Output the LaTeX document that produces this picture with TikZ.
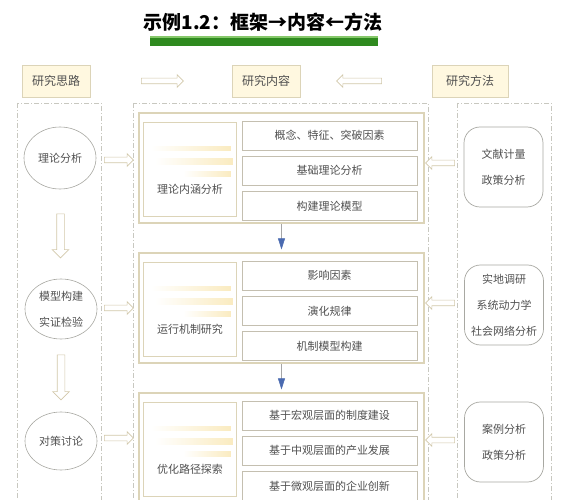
\documentclass[tikz,border=0pt]{standalone}
\usepackage{fontspec}
\setmainfont{Noto Sans CJK SC}
\usepackage{xcolor}
\usetikzlibrary{positioning, shapes.geometric, shapes.arrows, arrows.meta, calc}
\definecolor{tanline}{HTML}{DCD4B8}
\definecolor{creamfill}{HTML}{FFF8E0}
\definecolor{dashgray}{HTML}{C8C8C0}
\definecolor{rowgray}{HTML}{C4BFB0}
\definecolor{ellgray}{HTML}{A8A8A2}
\definecolor{arrowtan}{HTML}{D2C8AA}
\definecolor{txtgray}{HTML}{505050}
\definecolor{arrowblue}{HTML}{4A6AB0}
\definecolor{streakyellow}{HTML}{FAEBC0}
\definecolor{barlight}{HTML}{86C86A}
\definecolor{bardark}{HTML}{2F8A1F}

\begin{document}
\begin{tikzpicture}[x=1pt, y=-1pt,
		every node/.style={text=txtgray, font=\fontsize{11}{13}\selectfont}, % plain text everywhere
		hdrbox/.style={draw=tanline, fill=creamfill, line width=0.8pt, minimum height=32pt, inner sep=0pt, font=\fontsize{12}{14}\selectfont},
		column/.style={draw=dashgray, line width=0.6pt, dash pattern=on 5pt off 2pt on 1pt off 2pt},
		outerbox/.style={draw=tanline, line width=1.2pt, fill=white, minimum width=285pt, minimum height=110pt, inner sep=0pt},
		leftbox/.style={draw=tanline, line width=0.8pt, minimum width=93pt, minimum height=94pt, inner sep=0pt},
		rowbox/.style={draw=rowgray, line width=0.8pt, minimum width=175pt, minimum height=29pt, inner sep=0pt},
		ideabox/.style={ellipse, draw=ellgray, line width=0.6pt, minimum width=72pt, minimum height=60pt, inner sep=0pt, align=center, font=\fontsize{11}{26}\selectfont},
		methodbox/.style={rectangle, rounded corners=16pt, draw=ellgray, line width=0.7pt, minimum width=79pt, minimum height=80pt, inner sep=0pt, align=center, font=\fontsize{11}{26}\selectfont},
		hollow/.style={single arrow, draw=arrowtan, fill=white, line width=0.6pt, inner sep=2.5pt, single arrow head extend=3.5pt},
		flow/.style={draw=gray!70, line width=0.5pt, -{Triangle[color=arrowblue, width=7pt, length=11pt]}, shorten >=3pt},
		streak/.style={left color=white, right color=streakyellow, draw=none}
		]
		\useasboundingbox (0,0) rectangle (566,500);
		\clip (0,0) rectangle (566,500);
		
		% Title with green bar
		\node[text=black, font=\fontsize{19}{22}\selectfont\bfseries] (title) at (263,22) {示例1.2：框架→内容←方法};
		\fill[barlight] (150,36) rectangle (378,38.5);
		\fill[bardark] (150,38.5) rectangle (378,46);
		
		% Headers
		\node[hdrbox, minimum width=68pt] (hleft) at (56,81) {研究思路};
		\node[hdrbox, minimum width=68pt] (hmid) at (266,81) {研究内容};
		\node[hdrbox, minimum width=76pt] (hright) at (470,81) {研究方法};
		\node[hollow, minimum height=42pt] at ($(hleft.east)!.5!(hmid.west)$) {};
		\node[hollow, minimum height=45pt, shape border rotate=180] at (360.5,81) {};
		
		% Dashed columns
		\draw[column] (17,103) rectangle (101,510);
		\draw[column] (133,103) rectangle (428,510);
		\draw[column] (457,103) rectangle (551,510);
		
		% Block 1
		\node[outerbox] (out1) at (281.5,168) {};
		\node[leftbox] (in1) at (190,169) {};
		\node[above=21pt of in1.south, inner sep=1pt] (lab1) {理论内涵分析};
		\node[rowbox] (r11) at (329.5,135.5) {概念、特征、突破因素};
		\node[rowbox, below=5.5pt of r11] (r12) {基础理论分析};
		\node[rowbox, below=5.5pt of r12] (r13) {构建理论模型};
		
		% Block 2
		\node[outerbox] (out2) at (281.5,308) {};
		\node[leftbox] (in2) at (190,309) {};
		\node[above=21pt of in2.south, inner sep=1pt] (lab2) {运行机制研究};
		\node[rowbox] (r21) at (329.5,275.5) {影响因素};
		\node[rowbox, below=5.5pt of r21] (r22) {演化规律};
		\node[rowbox, below=5.5pt of r22] (r23) {机制模型构建};
		
		% Block 3
		\node[outerbox] (out3) at (281.5,448) {};
		\node[leftbox] (in3) at (190,449) {};
		\node[above=21pt of in3.south, inner sep=1pt] (lab3) {优化路径探索};
		\node[rowbox] (r31) at (329.5,415.5) {基于宏观层面的制度建设};
		\node[rowbox, below=5.5pt of r31] (r32) {基于中观层面的产业发展};
		\node[rowbox, below=5.5pt of r32] (r33) {基于微观层面的企业创新};
		
		% faded streaks in the left boxes
		\foreach \b in {in1,in2,in3} {
			\path[streak] ($(\b.north west)+(8,25)$) rectangle ($(\b.north east)+(-6,29)$);
			\path[streak] ($(\b.north west)+(12,37)$) rectangle ($(\b.north east)+(-4,43)$);
			\path[streak] ($(\b.north west)+(40,50)$) rectangle ($(\b.north east)+(-6,55)$);
		}
		
		% Flow between blocks
		\draw[flow] (out1.south) -- (out2.north);
		\draw[flow] (out2.south) -- (out3.north);
		
		% Left column: ideas
		\node[ideabox, minimum height=62pt] (ell1) at (60,158) {理论分析};
		\node[ideabox] (ell2) at (61,309) {模型构建\\实证检验};
		\node[ideabox, minimum height=58pt] (ell3) at (61,441) {对策讨论};
		\node[hollow, minimum height=44pt, shape border rotate=270, inner sep=3.5pt, single arrow head extend=4.5pt] at ($(ell1.south)!.5!(ell2.north)$) {};
		\node[hollow, minimum height=45pt, shape border rotate=270, inner sep=3.5pt, single arrow head extend=4.5pt] at ($(ell2.south)!.5!(ell3.north)$) {};
		\node[hollow, minimum height=29pt] at (117.5,160) {};
		\node[hollow, minimum height=29pt] at (117.5,308) {};
		\node[hollow, minimum height=29pt] at (117.5,438) {};
		
		% Right column: methods
		\node[methodbox] (rb1) at (503.5,167) {文献计量\\政策分析};
		\node[methodbox] (rb2) at (504,305) {实地调研\\系统动力学\\社会网络分析};
		\node[methodbox] (rb3) at (504,442) {案例分析\\政策分析};
		\node[hollow, minimum height=29pt, shape border rotate=180] at (441.5,163) {};
		\node[hollow, minimum height=29pt, shape border rotate=180] at (441.5,303) {};
		\node[hollow, minimum height=29pt, shape border rotate=180] at (441.5,440) {};
	\end{tikzpicture}
\end{document}
